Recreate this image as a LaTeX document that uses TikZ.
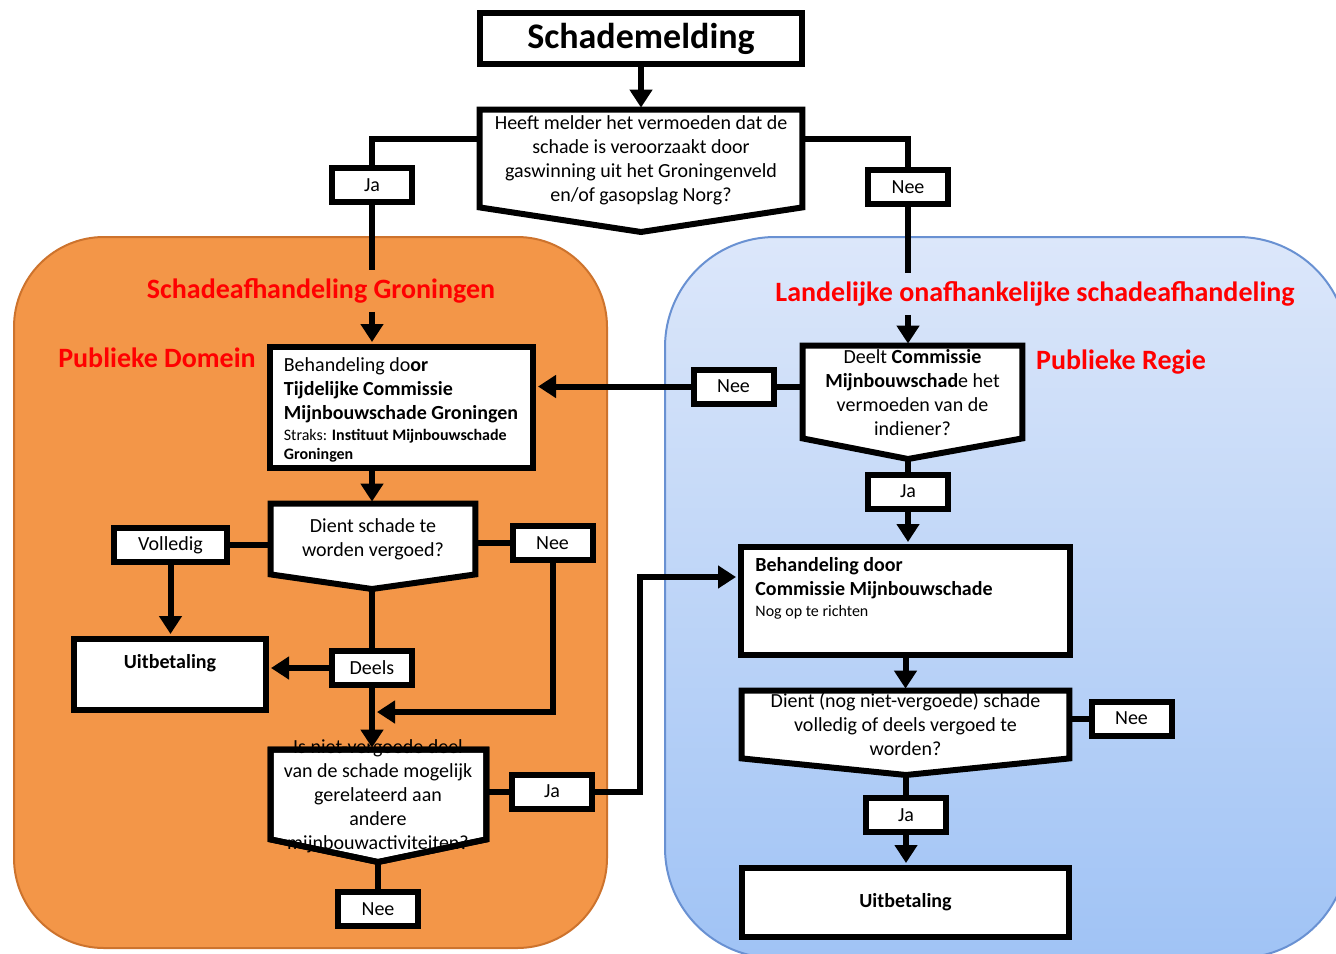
\documentclass[tikz,border=0pt]{standalone}
\usepackage{fontspec}
\setmainfont{Carlito}
\usetikzlibrary{arrows.meta}

\definecolor{panelorange}{RGB}{243,150,72}
\definecolor{orangeedge}{RGB}{205,115,45}
\definecolor{paneltop}{RGB}{220,231,250}
\definecolor{panelbot}{RGB}{160,195,245}
\definecolor{blueedge}{RGB}{105,145,210}

\tikzset{
	frame/.style={draw, line width=3pt, fill=white, inner sep=0pt},
	tag/.style={frame, minimum width=40pt, minimum height=17pt, font=\fontsize{10}{12}\selectfont},
	ask/.style={inner sep=0pt},
	asktext/.style={inner sep=0pt, align=center, font=\fontsize{10}{12}\selectfont},
	askline/.style={line width=3pt, fill=white, line join=miter},
	link/.style={line width=3pt},
	flow/.style={link, -{Triangle[width=11pt,length=9pt]}, shorten >=1pt},
	group/.style={text=red, font=\fontsize{14}{16}\selectfont\bfseries, inner sep=4pt}
}

\begin{document}
\begin{tikzpicture}[x=0.5pt,y=-0.5pt]
	\useasboundingbox (0,0) rectangle (1336,953);
	%panels
		\draw[orangeedge, fill=panelorange, line width=1pt, rounded corners=45pt] (14,237) rectangle (607,948);
		\draw[blueedge, top color=paneltop, bottom color=panelbot, line width=1pt, rounded corners=55pt] (665,237) rectangle (1348,958);
	%start
		\node[frame, minimum width=161pt, minimum height=25.5pt, font=\fontsize{18}{20}\selectfont\bfseries] (start) at (641,38.5) {Schademelding};
	%question 1
		\node[ask, minimum width=161pt, minimum height=48.5pt] (q1) at (641,158.5) {};
		\coordinate (q1tip) at (641,232);
		\draw[askline] (q1.north west) -- (q1.north east) -- (q1.south east) -- (q1tip) -- (q1.south west) -- cycle;
		\node[asktext] (q1txt) at (641,160) {Heeft melder het vermoeden dat de\\schade is veroorzaakt door\\gaswinning uit het Groningenveld\\en/of gasopslag Norg?};
		\node[tag] (ja1) at (372,185) {Ja};
		\node[tag] (nee1) at (908,187) {Nee};
	%panel titles
		\node[group] (grp1) at (321,291) {Schadeafhandeling Groningen};
		\node[group] (dom1) at (157,358) {Publieke Domein};
		\node[group] (grp2) at (1035,294) {Landelijke onafhankelijke schadeafhandeling};
		\node[group] (dom2) at (1121,362) {Publieke Regie};
	%left: treatment
		\node[frame, minimum width=131.5pt, minimum height=60.5pt] (beh1) at (401.5,407.5) {};
		\node[align=left, inner sep=0pt, font=\fontsize{10}{12}\selectfont] (beh1txt) at (401,410) {Behandeling do\textbf{or}\\\textbf{Tijdelijke Commissie}\\\textbf{Mijnbouwschade Groningen}\\[-1.5pt]{\fontsize{8}{9.5}\selectfont Straks: \textbf{Instituut Mijnbouwschade}}\\[-2.5pt]{\fontsize{8}{9.5}\selectfont\textbf{Groningen}}};
	%left: question 2
		\node[ask, minimum width=102pt, minimum height=35pt] (q2) at (373,539) {};
		\coordinate (q2tip) at (372,589);
		\draw[askline] (q2.north west) -- (q2.north east) -- (q2.south east) -- (q2tip) -- (q2.south west) -- cycle;
		\node[asktext] (q2txt) at (373,539) {Dient schade te\\worden vergoed?};
		\node[tag, minimum width=56.5pt] (vol) at (170.5,545) {Volledig};
		\node[tag] (nee2) at (552.5,543) {Nee};
		\node[frame, minimum width=96pt, minimum height=35.5pt] (pay1) at (170,674.5) {};
		\node[font=\fontsize{10}{12}\selectfont\bfseries] (pay1txt) at (170,663) {Uitbetaling};
		\node[tag] (deels) at (372,668) {Deels};
		\coordinate (merge) at (372,712);
	%left: question 3
		\node[ask, minimum width=107.5pt, minimum height=44.5pt] (q3) at (378.5,794.5) {};
		\coordinate (q3tip) at (378,862);
		\draw[askline] (q3.north west) -- (q3.north east) -- (q3.south east) -- (q3tip) -- (q3.south west) -- cycle;
		\node[asktext] (q3txt) at (378,796) {Is niet-vergoede deel\\van de schade mogelijk\\gerelateerd aan\\andere\\mijnbouwactiviteiten?};
		\draw[line width=3pt, line join=miter] (q3.north west) -- (q3.north east) -- (q3.south east) -- (q3tip) -- (q3.south west) -- cycle;
		\node[tag] (ja3) at (552,791.5) {Ja};
		\node[tag] (nee3) at (378,909) {Nee};
		\coordinate (jump) at (640,577);
	%right: question 4
		\node[ask, minimum width=109.5pt, minimum height=46pt] (q4) at (912.5,392) {};
		\coordinate (q4tip) at (908,459);
		\draw[askline] (q4.north west) -- (q4.north east) -- (q4.south east) -- (q4tip) -- (q4.south west) -- cycle;
		\node[asktext] (q4txt) at (912.5,393) {Deelt \textbf{Commissie}\\\textbf{Mijnbouwschad}e het\\vermoeden van de\\indiener?};
		\node[tag] (nee4) at (733.5,386.5) {Nee};
		\node[tag] (ja4) at (908,491.5) {Ja};
	%right: treatment
		\node[frame, minimum width=164.5pt, minimum height=54pt] (beh2) at (905.5,601) {};
		\node[anchor=north west, align=left, inner sep=0pt, font=\fontsize{10}{12}\selectfont] (beh2txt) at (755,557) {\textbf{Behandeling door}\\\textbf{Commissie Mijnbouwschade}\\[-1.5pt]{\fontsize{8}{9.5}\selectfont Nog op te richten}};
	%right: question 5
		\node[ask, minimum width=163.5pt, minimum height=33.5pt] (q5) at (905.5,724.5) {};
		\coordinate (q5tip) at (906,775);
		\draw[askline] (q5.north west) -- (q5.north east) -- (q5.south east) -- (q5tip) -- (q5.south west) -- cycle;
		\node[asktext] (q5txt) at (905.5,724) {Dient (nog niet-vergoede) schade\\volledig of deels vergoed te\\worden?};
		\node[tag] (nee5) at (1131.5,718.5) {Nee};
		\node[tag] (ja5) at (906,815) {Ja};
		\node[frame, minimum width=163.5pt, minimum height=34.5pt, font=\fontsize{10}{12}\selectfont\bfseries] (pay2) at (905.5,902.5) {Uitbetaling};
	%connectors top
		\draw[flow] (start.south) -- (q1.north);
		\draw[link] (q1.173) -| (ja1.north);
		\draw[link] (ja1.south) -- (ja1.south |- grp1.north);
		\draw[flow] (ja1 |- grp1.south) -- (ja1 |- beh1.north);
		\draw[link] (q1.7) -| (nee1.north);
		\draw[link] (nee1.south) -- (nee1.south |- grp2.north);
		\draw[flow] (nee1 |- grp2.south) -- (nee1 |- q4.north);
	%connectors left
		\draw[flow] (ja1 |- beh1.south) -- (ja1 |- q2.north);
		\draw[link] (vol.east) -- (vol.east -| q2.west);
		\draw[flow] (vol.south) -- (vol.south |- pay1.north);
		\draw[link] (nee2.west) -- (nee2.west -| q2.east);
		\draw[link] (q2tip) -- (deels.north);
		\draw[flow] (deels.west) -- (deels.west -| pay1.east);
		\draw[flow] (deels.south) -- (deels.south |- q3.north);
		\draw[flow] (nee2.south) |- ([xshift=1.5pt]merge);
		\draw[link] (ja3.west) -- (ja3.west -| q3.east);
		\draw[flow] (ja3.east) -| (jump) -- (jump -| beh2.west);
		\draw[link] (q3tip) -- (nee3.north);
	%connectors right
		\draw[link] (nee4.east) -- (nee4.east -| q4.west);
		\draw[flow] (nee4.west) -- (nee4.west -| beh1.east);
		\draw[link] (q4tip) -- (ja4.north);
		\draw[flow] (ja4.south) -- (ja4.south |- beh2.north);
		\draw[flow] (beh2.south) -- (q5.north);
		\draw[link] (nee5.west) -- (nee5.west -| q5.east);
		\draw[link] (q5tip) -- (ja5.north);
		\draw[flow] (ja5.south) -- (ja5.south |- pay2.north);
\end{tikzpicture}
\end{document}
